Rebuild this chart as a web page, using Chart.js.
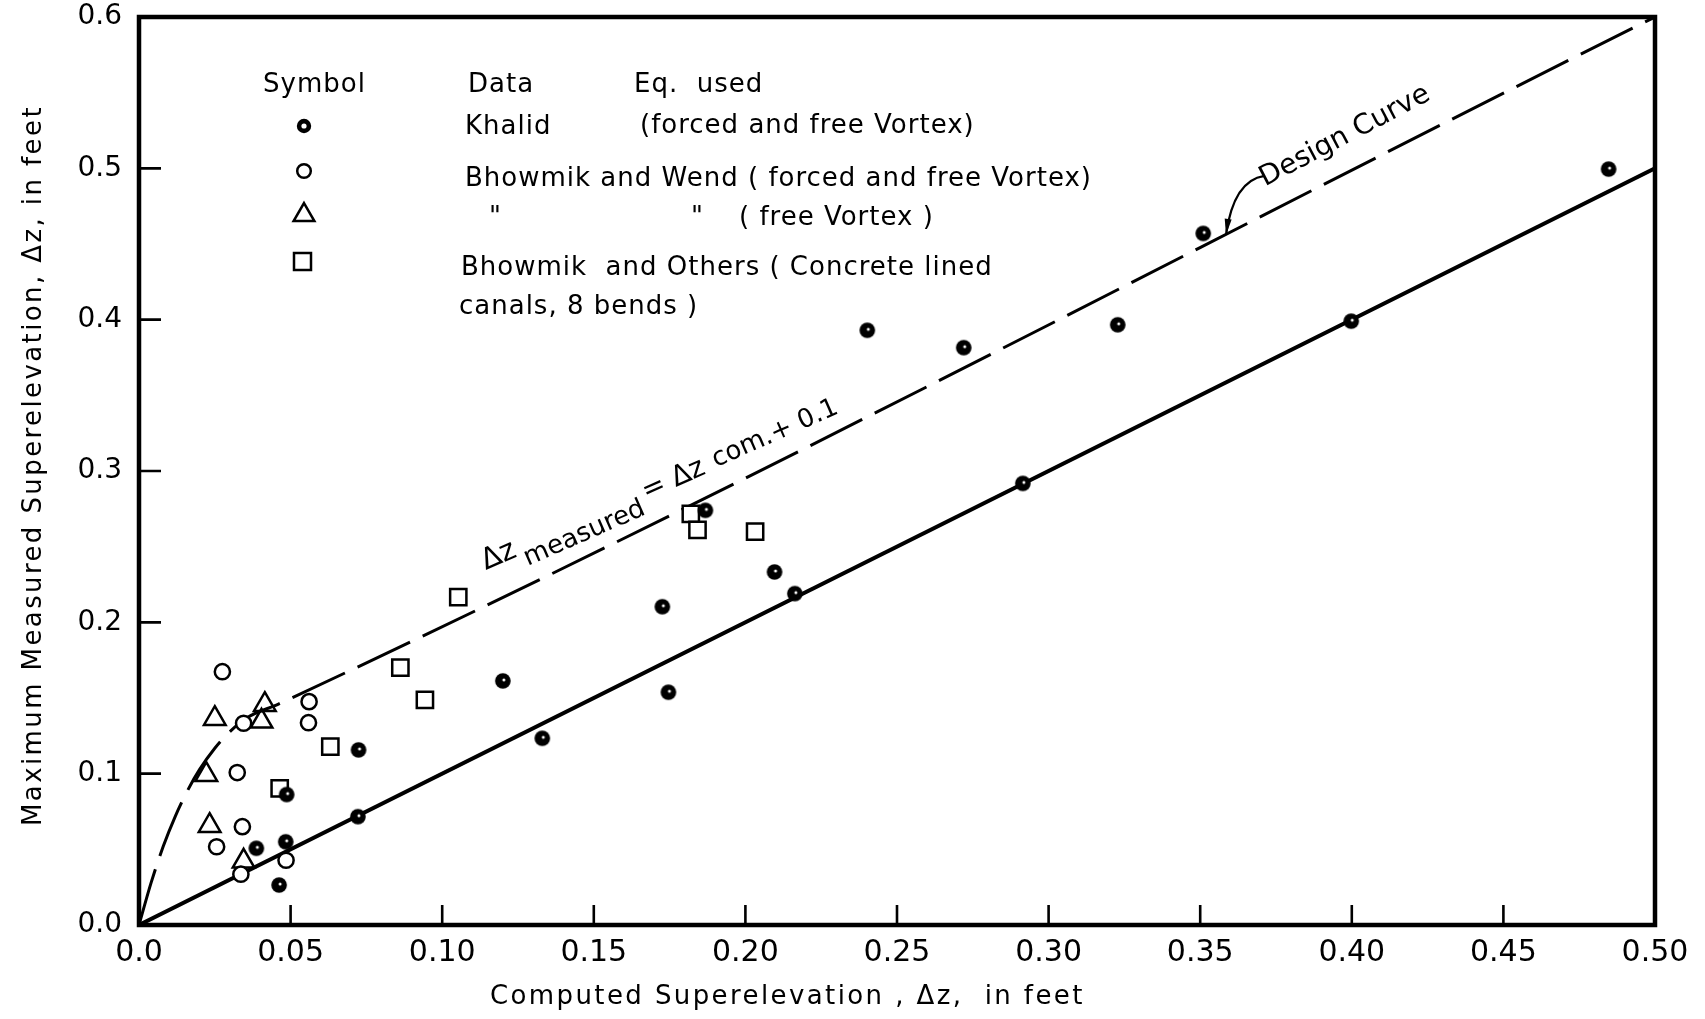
<!DOCTYPE html>
<html>
<head>
<meta charset="utf-8">
<script src="https://cdn.jsdelivr.net/npm/chart.js@4.4.1/dist/chart.umd.min.js"></script>
<style>
html,body{margin:0;padding:0;background:#fff;}
canvas{display:block;}
</style>
</head>
<body>
<canvas id="chart" width="1705" height="1019"></canvas>
<script>
// ---------------- DATA ----------------
const xTickValues = [0, 0.05, 0.10, 0.15, 0.20, 0.25, 0.30, 0.35, 0.40, 0.45, 0.50];
const xTickLabels = ['0.0', '0.05', '0.10', '0.15', '0.20', '0.25', '0.30', '0.35', '0.40', '0.45', '0.50'];
const yTickValues = [0, 0.1, 0.2, 0.3, 0.4, 0.5, 0.6];
const yTickLabels = ['0.0', '0.1', '0.2', '0.3', '0.4', '0.5', '0.6'];

// Khalid (forced and free vortex)
const khalidX = [0.4847, 0.3510, 0.3228, 0.2720, 0.2402, 0.3998, 0.2915, 0.2096, 0.2163, 0.1726, 0.1746, 0.1200, 0.1330, 0.0724, 0.0722, 0.0487, 0.0484, 0.0462, 0.0387, 0.1868];
const khalidY = [0.4995, 0.4570, 0.3966, 0.3815, 0.3930, 0.3990, 0.2918, 0.2333, 0.2190, 0.2103, 0.1538, 0.1613, 0.1234, 0.1157, 0.0716, 0.0862, 0.0550, 0.0264, 0.0507, 0.2740];

// Bhowmik and Wend (forced and free vortex)
const wendX = [0.0275, 0.0345, 0.0561, 0.0559, 0.0324, 0.0341, 0.0256, 0.0485, 0.0336];
const wendY = [0.1674, 0.1333, 0.1476, 0.1337, 0.1007, 0.0650, 0.0517, 0.0428, 0.0336];

// Bhowmik and Wend (free vortex)
const freeX = [0.0250, 0.0415, 0.0404, 0.0222, 0.0233, 0.0345];
const freeY = [0.1363, 0.1456, 0.1346, 0.0993, 0.0656, 0.0421];

// Bhowmik and Others (concrete lined canals, 8 bends)
const othersX = [0.0862, 0.0943, 0.0631, 0.0464, 0.1053, 0.1820, 0.1842, 0.2032];
const othersY = [0.1700, 0.1487, 0.1178, 0.0903, 0.2166, 0.2716, 0.2611, 0.2600];

// Design curve (dashed)
const designX = [0, 0.004, 0.008, 0.012, 0.016, 0.020, 0.025, 0.030, 0.036, 0.046, 0.5];
const designY = [0, 0.028, 0.052, 0.072, 0.0888, 0.1028, 0.1168, 0.1278, 0.1374, 0.1460, 0.6];

// Line of equality (solid)
const equalX = [0, 0.5];
const equalY = [0, 0.5];

// ---------------- HELPERS ----------------
const FONT = '"DejaVu Sans", "Liberation Sans", sans-serif';
const pts = (xs, ys) => xs.map((x, i) => ({x: x, y: ys[i]}));

function makeKhalidMarker(r) {
  const c = document.createElement('canvas');
  const s = Math.ceil(2 * r + 2);
  c.width = s; c.height = s;
  const g = c.getContext('2d');
  g.fillStyle = '#000';
  g.beginPath(); g.arc(s / 2, s / 2, r, 0, Math.PI * 2); g.fill();
  g.fillStyle = '#fff';
  g.beginPath(); g.arc(s / 2 + 1, s / 2 - 1, 1.5, 0, Math.PI * 2); g.fill();
  return c;
}
const khalidMarker = makeKhalidMarker(7.8);

function spacedText(ctx, text, x, y, spacing) {
  ctx.letterSpacing = spacing + 'px';
  ctx.fillText(text, x, y);
  ctx.letterSpacing = '0px';
}

// ---------------- PLUGINS ----------------
const framePlugin = {
  id: 'frame',
  afterDatasetsDraw(chart) {
    const {ctx, chartArea: a, scales: {x, y}} = chart;
    ctx.save();
    ctx.strokeStyle = '#000';
    ctx.lineWidth = 4.5;
    ctx.lineJoin = 'miter';
    ctx.strokeRect(a.left, a.top, a.right - a.left, a.bottom - a.top);
    ctx.lineWidth = 2.6;
    ctx.beginPath();
    yTickValues.forEach(v => {
      if (v <= 0 || v >= 0.6) return;
      const py = y.getPixelForValue(v);
      ctx.moveTo(a.left, py); ctx.lineTo(a.left + 22, py);
    });
    xTickValues.forEach(v => {
      if (v <= 0 || v >= 0.5) return;
      const px = x.getPixelForValue(v);
      ctx.moveTo(px, a.bottom); ctx.lineTo(px, a.bottom - 20);
    });
    ctx.stroke();
    ctx.restore();
  }
};

const legendPlugin = {
  id: 'legendTable',
  afterDraw(chart) {
    const ctx = chart.ctx;
    ctx.save();
    ctx.fillStyle = '#000';
    ctx.strokeStyle = '#000';
    ctx.font = '26px ' + FONT;
    ctx.textBaseline = 'alphabetic';
    ctx.textAlign = 'left';
    const sp = 1;
    spacedText(ctx, 'Symbol', 263, 92, sp);
    spacedText(ctx, 'Data', 468, 92, sp);
    spacedText(ctx, 'Eq.  used', 634, 92, sp);
    spacedText(ctx, 'Khalid', 465, 134, sp);
    spacedText(ctx, '(forced and free Vortex)', 640, 133, sp);
    spacedText(ctx, 'Bhowmik and Wend ( forced and free Vortex)', 465, 186, sp);
    spacedText(ctx, '"', 489, 225, sp);
    spacedText(ctx, '"', 691, 225, sp);
    spacedText(ctx, '( free Vortex )', 739, 225, sp);
    spacedText(ctx, 'Bhowmik  and Others ( Concrete lined', 461, 275, sp);
    spacedText(ctx, 'canals, 8 bends )', 459, 314, sp);

    // symbols
    const sx = 304;
    // Khalid
    ctx.beginPath(); ctx.arc(sx, 126, 7.2, 0, Math.PI * 2); ctx.fill();
    ctx.fillStyle = '#fff';
    ctx.beginPath(); ctx.arc(sx, 126, 2.6, 0, Math.PI * 2); ctx.fill();
    ctx.fillStyle = '#000';
    // open circle
    ctx.lineWidth = 2.5;
    ctx.beginPath(); ctx.arc(sx, 171, 6.8, 0, Math.PI * 2); ctx.stroke();
    // triangle
    const r = 12, cy = 215;
    ctx.beginPath();
    ctx.moveTo(sx, cy - r);
    ctx.lineTo(sx + r * Math.sin(2 * Math.PI / 3), cy - r * Math.cos(2 * Math.PI / 3));
    ctx.lineTo(sx - r * Math.sin(2 * Math.PI / 3), cy - r * Math.cos(2 * Math.PI / 3));
    ctx.closePath(); ctx.stroke();
    // square
    ctx.strokeRect(sx - 10, 253, 17, 17);
    ctx.restore();
  }
};

const annotationPlugin = {
  id: 'annotations',
  afterDatasetsDraw(chart) {
    const {ctx, scales: {x, y}} = chart;
    const ang = Math.atan2(y.getPixelForValue(0) - y.getPixelForValue(1), x.getPixelForValue(1) - x.getPixelForValue(0));
    ctx.save();
    ctx.fillStyle = '#000';
    ctx.textBaseline = 'alphabetic';
    ctx.textAlign = 'left';
    // equation label along the dashed line
    ctx.save();
    ctx.translate(x.getPixelForValue(0.1144), y.getPixelForValue(0.2345));
    ctx.rotate(-ang + 0.05);
    ctx.font = '29px ' + FONT;
    ctx.fillText('\u0394z', 0, 0);
    ctx.font = '26px ' + FONT;
    ctx.fillText('measured', 40, 13);
    ctx.font = '28px ' + FONT;
    ctx.fillText('= \u0394z', 175, 0);
    ctx.font = '26px ' + FONT;
    ctx.fillText('com.+ 0.1', 252, -2);
    ctx.restore();

    // Design Curve label
    ctx.font = '28px ' + FONT;
    ctx.save();
    ctx.translate(x.getPixelForValue(0.3714), y.getPixelForValue(0.4880));
    ctx.rotate(-ang - 0.02);
    ctx.fillText('Design Curve', 0, 0);
    ctx.restore();

    // arrow
    const sX = x.getPixelForValue(0.3712), sY = y.getPixelForValue(0.4950);
    const cX = x.getPixelForValue(0.3610), cY = y.getPixelForValue(0.4920);
    const tX = x.getPixelForValue(0.3585), tY = y.getPixelForValue(0.4560);
    ctx.strokeStyle = '#000';
    ctx.lineWidth = 2.2;
    ctx.beginPath();
    ctx.moveTo(sX, sY);
    ctx.quadraticCurveTo(cX, cY, tX, tY);
    ctx.stroke();
    const da = Math.atan2(tY - cY, tX - cX);
    const L = 16, W = 3.5;
    ctx.beginPath();
    ctx.moveTo(tX, tY);
    ctx.lineTo(tX - L * Math.cos(da) + W * Math.sin(da), tY - L * Math.sin(da) - W * Math.cos(da));
    ctx.lineTo(tX - L * Math.cos(da) - W * Math.sin(da), tY - L * Math.sin(da) + W * Math.cos(da));
    ctx.closePath();
    ctx.fill();
    ctx.restore();
  }
};

const titlesPlugin = {
  id: 'axisTitles',
  afterDraw(chart) {
    const ctx = chart.ctx;
    ctx.save();
    ctx.fillStyle = '#000';
    ctx.font = '26px ' + FONT;
    ctx.textBaseline = 'alphabetic';
    ctx.textAlign = 'left';
    spacedText(ctx, 'Computed Superelevation , \u0394z,  in feet', 490, 1004, 2.4);
    ctx.translate(41, 826);
    ctx.rotate(-Math.PI / 2);
    spacedText(ctx, 'Maximum Measured Superelevation, \u0394z, in feet', 0, 0, 2.4);
    ctx.restore();
  }
};

// ---------------- CHART ----------------
new Chart(document.getElementById('chart').getContext('2d'), {
  type: 'scatter',
  data: {
    datasets: [
      {
        label: 'Khalid',
        data: pts(khalidX, khalidY),
        pointStyle: khalidMarker,
        pointRadius: 8,
        order: 0
      },
      {
        label: 'Bhowmik and Wend (forced and free Vortex)',
        data: pts(wendX, wendY),
        pointStyle: 'circle',
        pointRadius: 7.6,
        borderWidth: 2.5,
        borderColor: '#000',
        backgroundColor: '#fff',
        order: 0
      },
      {
        label: 'Bhowmik and Wend (free Vortex)',
        data: pts(freeX, freeY),
        pointStyle: 'triangle',
        pointRadius: 12.5,
        borderWidth: 2.5,
        borderColor: '#000',
        backgroundColor: 'rgba(255,255,255,0)',
        order: 0
      },
      {
        label: 'Bhowmik and Others',
        data: pts(othersX, othersY),
        pointStyle: 'rect',
        pointRadius: 11.5,
        borderWidth: 2.5,
        borderColor: '#000',
        backgroundColor: '#fff',
        order: 0
      },
      {
        type: 'line',
        label: 'Design Curve',
        data: pts(designX, designY),
        showLine: true,
        borderColor: '#000',
        borderWidth: 3,
        borderDash: [58, 14],
        pointRadius: 0,
        fill: false,
        cubicInterpolationMode: 'monotone',
        order: 1
      },
      {
        type: 'line',
        label: 'Equality',
        data: pts(equalX, equalY),
        showLine: true,
        borderColor: '#000',
        borderWidth: 4,
        pointRadius: 0,
        fill: false,
        order: 1
      }
    ]
  },
  options: {
    responsive: false,
    animation: false,
    devicePixelRatio: 1,
    layout: {padding: {top: 17, right: 50, left: 0, bottom: 0}},
    plugins: {legend: {display: false}, tooltip: {enabled: false}},
    scales: {
      x: {
        type: 'linear', position: 'bottom', min: 0, max: 0.5,
        afterBuildTicks: s => { s.ticks = xTickValues.map(v => ({value: v})); },
        afterFit: s => { s.height = 94; s.paddingLeft = 0; s.paddingRight = 0; },
        grid: {display: false},
        border: {display: false},
        ticks: {
          autoSkip: false, maxRotation: 0, minRotation: 0, padding: 2,
          color: '#000', font: {family: FONT, size: 30},
          callback: (v, i) => xTickLabels[i]
        }
      },
      y: {
        type: 'linear', position: 'left', min: 0, max: 0.6,
        afterBuildTicks: s => { s.ticks = yTickValues.map(v => ({value: v})); },
        afterFit: s => { s.width = 139; s.paddingTop = 0; s.paddingBottom = 0; },
        grid: {display: false},
        border: {display: false},
        ticks: {
          autoSkip: false, padding: 9,
          color: '#000', font: {family: FONT, size: 28},
          callback: (v, i) => yTickLabels[i]
        }
      }
    }
  },
  plugins: [framePlugin, annotationPlugin, legendPlugin, titlesPlugin]
});
</script>
</body>
</html>
